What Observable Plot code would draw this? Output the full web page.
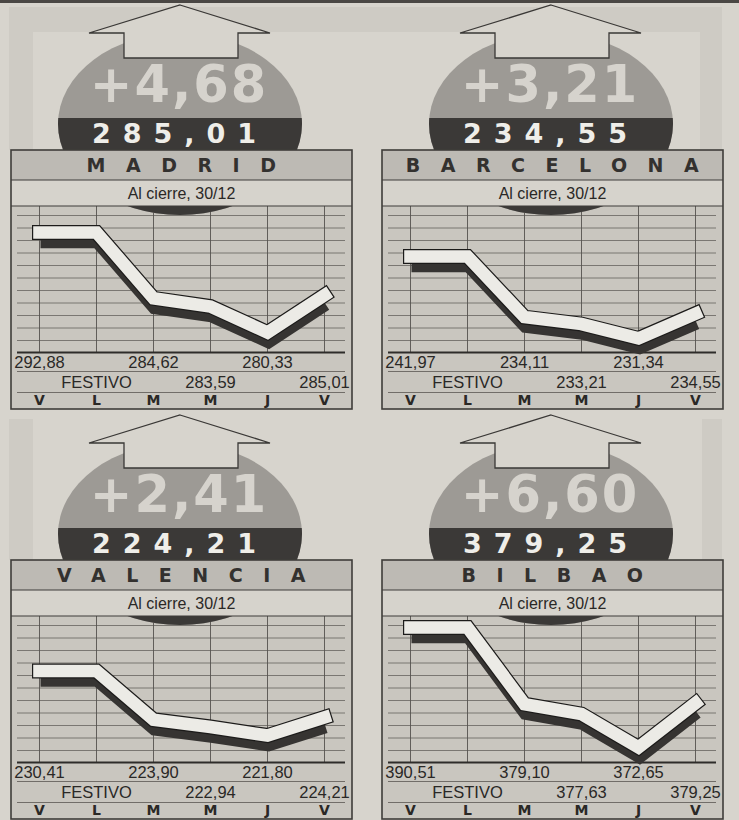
<!DOCTYPE html>
<html>
<head>
<meta charset="utf-8">
<script src="https://cdn.jsdelivr.net/npm/d3@7"></script>
<script src="https://cdn.jsdelivr.net/npm/@observablehq/plot@0.6"></script>
<style>
html, body { margin: 0; padding: 0; background: #d7d4cd; }
#root { position: relative; width: 739px; height: 820px; overflow: hidden; background: #d7d4cd; }
#topline { position: absolute; left: 0; top: 0; width: 739px; height: 3px; background: #4a4744; }
.strip { position: absolute; background: #cecbc4; }
.panel { position: absolute; width: 369px; height: 410px; }
.panel .chart { position: absolute; left: 11px; top: 206px; }
.panel svg.overlay { position: absolute; left: 0; top: 0; pointer-events: none; }
</style>
</head>
<body>
<div id="root">
  <div id="topline"></div>
  <div class="strip" style="left:9px;top:7px;width:713px;height:25px;"></div>
  <div class="strip" style="left:9px;top:7px;width:24px;height:143px;"></div>
  <div class="strip" style="left:700px;top:7px;width:22px;height:143px;"></div>
  <div class="strip" style="left:9px;top:419px;width:24px;height:141px;"></div>
  <div class="strip" style="left:702px;top:419px;width:20px;height:141px;"></div>
</div>
<script>
// ---- data ----
const days = ["V", "L", "M", "M", "J", "V"];
const festivoIndex = 1;
const cities = ["MADRID", "BARCELONA", "VALENCIA", "BILBAO"];
const changes = ["+4,68", "+3,21", "+2,41", "+6,60"];
const closes = ["285,01", "234,55", "224,21", "379,25"];
const subtitle = "Al cierre, 30/12";
const festivoLabel = "FESTIVO";
const madrid    = [292.88, 292.88, 284.62, 283.59, 280.33, 285.01];
const barcelona = [241.97, 241.97, 234.11, 233.21, 231.34, 234.55];
const valencia  = [230.41, 230.41, 223.90, 222.94, 221.80, 224.21];
const bilbao    = [390.51, 390.51, 379.10, 377.63, 372.65, 379.25];
const series = [madrid, barcelona, valencia, bilbao];

// ---- scale settings ----
const yDomains = [[277.82, 296.14], [229.52, 248.45], [218.20, 237.69], [370.42, 392.15]];
const panelPos = [[0, 0], [371, 0], [0, 410], [371, 410]];

const C = {
  paper: "#d7d4cd",
  ellipse: "#9d9a95",
  band: "#3b3937",
  bigText: "#d6d3cd",
  white: "#efeee9",
  titleBar: "#bdbab4",
  subBar: "#d6d3cc",
  chartBg: "#c9c6bf",
  grid: "#66635e",
  ink: "#2a2826",
  border: "#3f3d3a",
  ribbon: "#ecebe6",
  shadow: "#363432"
};

const fmt = v => d3.format(".2f")(v).replace(".", ",");

function chart(i) {
  const vals = series[i];
  const data = vals.map((v, k) => ({k, v, label: k === festivoIndex ? festivoLabel : fmt(v), row: k % 2}));
  const [lo, hi] = yDomains[i];
  const H = 146;
  const gridVals = d3.range(11).map(j => hi - (9 + 12.5 * j) / H * (hi - lo));
  const lineOpts = {x: "k", y: "v", strokeLinejoin: "miter", strokeMiterlimit: 6};
  const textOpts = {x: "k", text: "label", frameAnchor: "bottom", lineAnchor: "bottom", fontSize: 16.5, fill: C.ink};
  return Plot.plot({
    width: 341, height: 203,
    marginTop: 0, marginBottom: 57, marginLeft: 6, marginRight: 7,
    x: {type: "point", domain: d3.range(days.length), padding: 0.377, axis: null, label: null},
    y: {domain: [lo, hi], axis: null},
    style: {background: C.chartBg, fontFamily: "'Liberation Sans', Arial, sans-serif", overflow: "visible"},
    marks: [
      Plot.gridY({ticks: gridVals, stroke: C.grid, strokeOpacity: 1, strokeWidth: 0.8}),
      Plot.gridX({ticks: d3.range(days.length), stroke: "#55524e", strokeOpacity: 1, strokeWidth: 0.9}),
      Plot.ruleY([lo], {stroke: "#2e2c2a", strokeWidth: 2}),
      Plot.ruleY([lo], {dy: 19, stroke: C.grid, strokeWidth: 0.9}),
      Plot.ruleY([lo], {dy: 40, stroke: C.grid, strokeWidth: 0.9}),
      Plot.line(data, {...lineOpts, stroke: C.shadow, strokeWidth: 13.5, strokeLinecap: "butt", dy: 9, dx: 1}),
      Plot.line(data, {...lineOpts, stroke: "#1c1b1a", strokeWidth: 15, strokeLinecap: "square"}),
      Plot.line(data, {...lineOpts, stroke: C.ribbon, strokeWidth: 12.6, strokeLinecap: "square"}),
      Plot.text(data.filter(d => d.row === 0), {...textOpts, dy: 15}),
      Plot.text(data.filter(d => d.row === 1), {...textOpts, dy: 35}),
      Plot.axisX({ticks: d3.range(days.length), tickFormat: k => days[k], tickSize: 0, tickPadding: 0, dy: 43,
        label: null, fontSize: 14, fontWeight: "bold", fontFamily: "'DejaVu Sans', sans-serif", fill: C.ink})
    ]
  });
}

function overlay(panel, i) {
  const svg = d3.select(panel).append("svg").attr("class", "overlay").attr("width", 369).attr("height", 410);
  const cx = 180, cy = 124, rx = 122, ry = 91;
  const clipId = "bandclip" + i;
  svg.append("clipPath").attr("id", clipId).append("rect").attr("x", 0).attr("y", 118).attr("width", 369).attr("height", 200);
  svg.append("ellipse").attr("cx", cx).attr("cy", cy).attr("rx", rx).attr("ry", ry).attr("fill", C.ellipse);
  svg.append("ellipse").attr("cx", cx).attr("cy", cy).attr("rx", rx).attr("ry", ry).attr("fill", C.band).attr("clip-path", `url(#${clipId})`);
  svg.append("text").attr("x", 179).attr("y", 102).attr("text-anchor", "middle")
    .style("font", "bold 51px 'DejaVu Sans', sans-serif").style("letter-spacing", "2px")
    .attr("fill", C.bigText).text(changes[i]);
  svg.append("text").attr("x", 180).attr("y", 143).attr("text-anchor", "middle")
    .style("font", "bold 27px 'DejaVu Sans', sans-serif").style("letter-spacing", "12px")
    .attr("fill", C.white).text(closes[i]);
  // arrow
  const arrow = [[180, 5], [270, 33], [238, 33], [238, 58], [124, 58], [124, 33], [89, 33]];
  svg.append("polygon").attr("points", arrow.map(p => p.join(",")).join(" "))
    .attr("fill", C.paper).attr("stroke", "#3a3836").attr("stroke-width", 1.3).attr("stroke-linejoin", "miter");
  // title bar
  svg.append("rect").attr("x", 11).attr("y", 150).attr("width", 341).attr("height", 30).attr("fill", C.titleBar);
  svg.append("text").attr("x", 191.5).attr("y", 172).attr("text-anchor", "middle")
    .style("font", "bold 19px 'DejaVu Sans', sans-serif").style("letter-spacing", "20.5px")
    .attr("fill", "#33312f").text(cities[i]);
  // subtitle bar
  svg.append("rect").attr("x", 11).attr("y", 180).attr("width", 341).attr("height", 26).attr("fill", C.subBar);
  svg.append("text").attr("x", 181.5).attr("y", 199).attr("text-anchor", "middle")
    .style("font", "16px 'Liberation Sans', Arial, sans-serif").attr("fill", C.ink).text(subtitle);
  svg.append("line").attr("x1", 11).attr("x2", 352).attr("y1", 180).attr("y2", 180).attr("stroke", C.border).attr("stroke-width", 1.2);
  svg.append("line").attr("x1", 11).attr("x2", 352).attr("y1", 206).attr("y2", 206).attr("stroke", C.border).attr("stroke-width", 1.2);
  svg.append("rect").attr("x", 11).attr("y", 150).attr("width", 341).attr("height", 259)
    .attr("fill", "none").attr("stroke", C.border).attr("stroke-width", 1.6);
}

const root = document.getElementById("root");
series.forEach((s, i) => {
  const panel = document.createElement("div");
  panel.className = "panel";
  panel.style.left = panelPos[i][0] + "px";
  panel.style.top = panelPos[i][1] + "px";
  root.appendChild(panel);
  const c = chart(i);
  c.classList.add("chart");
  panel.appendChild(c);
  overlay(panel, i);
});
</script>
</body>
</html>
